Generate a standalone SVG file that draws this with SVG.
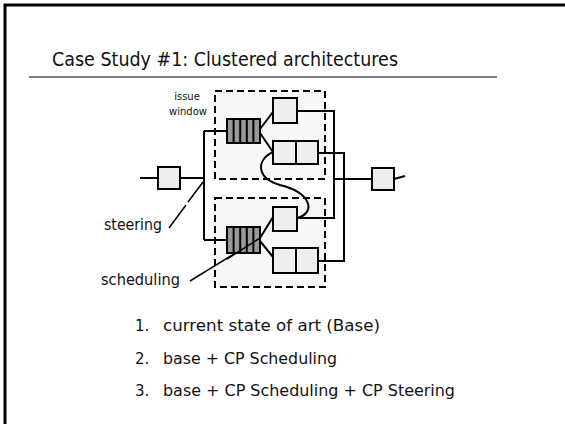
<svg xmlns="http://www.w3.org/2000/svg" width="565" height="424" viewBox="0 0 565 424">
<style>
.t{font-family:"DejaVu Sans","Liberation Sans",sans-serif;fill:#111}
.ln{fill:none;stroke:#000;stroke-width:2}
.cl{fill:#f7f7f7;stroke:#000;stroke-width:2;stroke-dasharray:7 4}
.bx{fill:#eeeeee;stroke:#000;stroke-width:2}
.q{fill:#999;stroke:#000;stroke-width:2}
</style>
<rect x="0" y="0" width="565" height="424" fill="#fff"/>
<rect x="5" y="5" width="600" height="460" fill="none" stroke="#000" stroke-width="3"/>
<text class="t" x="52" y="66" font-size="20" textLength="346" lengthAdjust="spacingAndGlyphs">Case Study #1: Clustered architectures</text>
<line x1="29" y1="77" x2="497" y2="77" stroke="#808080" stroke-width="2"/>

<g id="cluster1">
<rect class="cl" x="215" y="91" width="110" height="88"/>
</g>
<g id="cluster2">
<rect class="cl" x="215" y="198" width="110" height="89"/>
</g>
<text class="t" x="187" y="100" font-size="10" text-anchor="middle" fill="#333">issue</text>
<text class="t" x="188" y="115" font-size="10" text-anchor="middle" fill="#333">window</text>

<g id="connectors">
<path class="ln" d="M140,178 H158 M180,178 H204 M204,131 V240 M204,131 H227 M204,240 H227"/>
<path class="ln" d="M260,129 L273,112 M260,133 L273,152"/>
<path class="ln" d="M260,238 L273,217 M260,241 L273,257"/>
<path class="ln" d="M297,111 H334 V218 H297"/>
<path class="ln" d="M318,153 H344 V261 H318"/>
<path class="ln" d="M334,179 H372 M394,179 L405,176"/>
<path class="ln" d="M273,152 C256,160 256,178 280,185 C312,193 316,213 297,218"/>
<path fill="none" stroke="#000" stroke-width="1.5" d="M203,182 L188,202 M186,205 L169,228"/>
<path fill="none" stroke="#000" stroke-width="1.5" d="M190,281 L260,238"/>
</g>

<g id="in">
<rect class="bx" x="158" y="167" width="22" height="22"/>
</g>
<g id="out">
<rect class="bx" x="372" y="168" width="22" height="22"/>
</g>

<g id="queue1">
<rect class="q" x="227" y="119" width="33" height="24"/>
<path class="ln" d="M233.6,119 V143 M240.2,119 V143 M246.8,119 V143 M253.4,119 V143"/>
</g>
<g id="alu1a"><rect class="bx" x="273" y="98" width="24" height="25"/></g>
<g id="alu1b"><rect class="bx" x="273" y="141" width="45" height="23"/><line x1="296" y1="141" x2="296" y2="164" stroke="#000" stroke-width="2"/></g>

<g id="queue2">
<rect class="q" x="227" y="227" width="33" height="26"/>
<path class="ln" d="M233.6,227 V253 M240.2,227 V253 M246.8,227 V253 M253.4,227 V253"/>
</g>
<g id="alu2a"><rect class="bx" x="273" y="207" width="24" height="24"/></g>
<g id="alu2b"><rect class="bx" x="273" y="248" width="45" height="25"/><line x1="296" y1="248" x2="296" y2="273" stroke="#000" stroke-width="2"/></g>
<path fill="none" stroke="#000" stroke-width="1.5" d="M227,259 L260,238"/>

<text class="t" x="104" y="230" font-size="15" textLength="58" lengthAdjust="spacingAndGlyphs">steering</text>
<text class="t" x="101" y="285" font-size="15" textLength="79" lengthAdjust="spacingAndGlyphs">scheduling</text>

<text class="t" x="135" y="331" font-size="15">1.</text>
<text class="t" x="163" y="331" font-size="15" textLength="217" lengthAdjust="spacingAndGlyphs">current state of art (Base)</text>
<text class="t" x="135" y="364" font-size="15">2.</text>
<text class="t" x="163" y="364" font-size="15" textLength="174" lengthAdjust="spacingAndGlyphs">base + CP Scheduling</text>
<text class="t" x="135" y="396" font-size="15">3.</text>
<text class="t" x="163" y="396" font-size="15" textLength="292" lengthAdjust="spacingAndGlyphs">base + CP Scheduling + CP Steering</text>
</svg>
